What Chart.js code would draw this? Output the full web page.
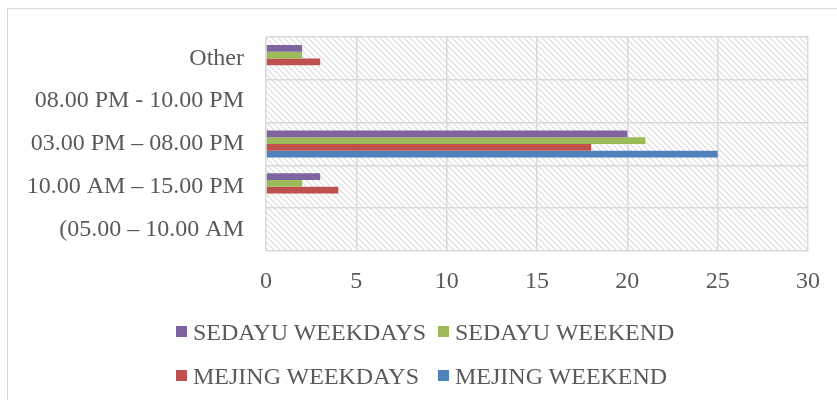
<!DOCTYPE html>
<html>
<head>
<meta charset="utf-8">
<script src="https://cdn.jsdelivr.net/npm/chart.js@4.4.0/dist/chart.umd.min.js"></script>
<style>
  html, body { margin: 0; padding: 0; background: #fff; }
  #wrap { position: relative; width: 837px; height: 400px; overflow: hidden; }
  #frame { position: absolute; left: 7px; top: 8px; width: 900px; height: 500px; border-left: 1.5px solid #d9d9d9; border-top: 1.5px solid #d9d9d9; box-sizing: border-box; }
  canvas { position: absolute; left: 0; top: 0; }
  .lg { position: absolute; font-family: "Liberation Serif", "Times New Roman", serif; font-size: 24px; line-height: 24px; color: #595959; white-space: nowrap; }
  .lg .sw { position: absolute; width: 11px; height: 11px; }
</style>
</head>
<body>
<div id="wrap">
  <div id="frame"></div>
  <canvas id="c" width="837" height="400"></canvas>
</div>
<script>
const categories = ["Other", "08.00 PM - 10.00 PM", "03.00 PM \u2013 08.00 PM", "10.00 AM \u2013 15.00 PM", "(05.00 \u2013 10.00 AM"];
const seriesNames = ["SEDAYU WEEKDAYS", "SEDAYU WEEKEND", "MEJING WEEKDAYS", "MEJING WEEKEND"];
const sedayuWeekdays = [2, 0, 20, 3, 0];
const sedayuWeekend  = [2, 0, 21, 2, 0];
const mejingWeekdays = [3, 0, 18, 4, 0];
const mejingWeekend  = [0, 0, 25, 0, 0];
const xTicks = [0, 5, 10, 15, 20, 25, 30];
const colors = ["#8064A2", "#9BBB59", "#C0504D", "#4F81BD"];

const seriesValues = [sedayuWeekdays, sedayuWeekend, mejingWeekdays, mejingWeekend];

function makePattern(ctx) {
  const t = document.createElement('canvas');
  t.width = 6; t.height = 6;
  const p = t.getContext('2d');
  p.strokeStyle = '#e0e0e0';
  p.lineWidth = 1.3;
  p.beginPath();
  p.moveTo(-1, -1); p.lineTo(7, 7);
  p.moveTo(-7, -1); p.lineTo(1, 7);
  p.moveTo(5, -1); p.lineTo(13, 7);
  p.stroke();
  return ctx.createPattern(t, 'repeat');
}

const hatchPlugin = {
  id: 'hatch',
  beforeDraw(chart) {
    const { ctx, chartArea: a } = chart;
    ctx.save();
    ctx.fillStyle = makePattern(ctx);
    ctx.fillRect(a.left, a.top, a.right - a.left, a.bottom - a.top);
    ctx.restore();
  }
};

const FONT = { family: '"Liberation Serif", "Times New Roman", serif', size: 24 };

new Chart(document.getElementById('c'), {
  type: 'bar',
  data: {
    labels: categories,
    datasets: seriesNames.map((n, i) => ({
      label: n,
      data: seriesValues[i],
      backgroundColor: colors[i],
      borderWidth: 0,
      barPercentage: 1,
      categoryPercentage: 0.63
    }))
  },
  options: {
    indexAxis: 'y',
    responsive: false,
    animation: false,
    devicePixelRatio: 1,
    layout: { padding: { left: 0, right: 29, top: 37, bottom: 0 } },
    plugins: { legend: { display: false }, tooltip: { enabled: false } },
    scales: {
      x: {
        min: xTicks[0], max: xTicks[xTicks.length - 1],
        afterBuildTicks(scale) { scale.ticks = xTicks.map(v => ({ value: v })); },
        afterFit(scale) { scale.height = 149; },
        grid: { color: '#d9d9d9', lineWidth: 1.5, drawTicks: false },
        border: { display: false },
        ticks: { font: FONT, color: '#595959', padding: 16 }
      },
      y: {
        afterFit(scale) { scale.width = 266; },
        grid: { color: '#d9d9d9', lineWidth: 1.5, drawTicks: false, offset: true },
        border: { display: false },
        ticks: { font: FONT, color: '#595959', padding: 22 }
      }
    }
  },
  plugins: [hatchPlugin]
});

// Legend (HTML, built from the series arrays)
const legendPos = [[176, 320], [438, 320], [176, 364], [438, 364]];
const wrap = document.getElementById('wrap');
seriesNames.forEach((n, i) => {
  const d = document.createElement('div');
  d.className = 'lg';
  d.style.left = (legendPos[i][0] + 17) + 'px';
  d.style.top = legendPos[i][1] + 'px';
  d.textContent = n;
  const s = document.createElement('div');
  s.className = 'sw';
  s.style.background = colors[i];
  s.style.left = '-17px';
  s.style.top = '6px';
  d.appendChild(s);
  wrap.appendChild(d);
});
</script>
</body>
</html>
